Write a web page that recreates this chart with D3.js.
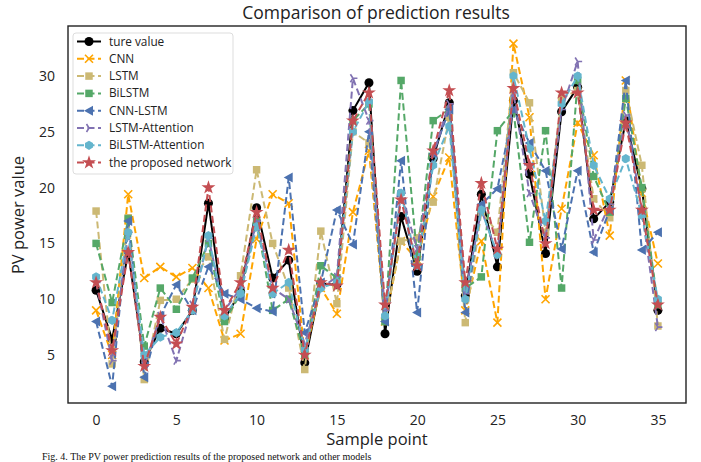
<!DOCTYPE html>
<html lang="en">
<head>
<meta charset="UTF-8">
<title>Comparison of prediction results</title>
<script src="https://cdn.jsdelivr.net/npm/d3@7"></script>
<style>
	body { margin: 0; background: #fff; }
	svg { display: block; font-family: "Open Sans", "Noto Sans", sans-serif; }
</style>
</head>
<body>
<div id="chart"></div>
<script>
// sample index 0..35
let samples = d3.range(36);

let trueValue = [10.8, 6.4, 14.2, 4.4, 7.4, 6.9, 9.0, 18.6, 8.2, 10.7, 18.2, 11.9, 13.5, 4.3, 11.4, 11.3, 26.9, 29.4, 6.9, 17.4, 12.5, 22.6, 27.6, 10.3, 19.4, 12.9, 27.8, 21.2, 14.1, 26.8, 29.0, 17.2, 18.7, 26.0, 19.9, 9.0];
let cnn = [9.0, 5.0, 19.4, 11.9, 12.9, 12.0, 12.8, 11.0, 6.3, 6.9, 15.4, 19.4, 18.6, 5.0, 11.0, 8.7, 17.8, 23.3, 8.0, 15.2, 13.5, 19.2, 22.7, 9.0, 15.2, 7.9, 32.9, 26.3, 10.0, 18.1, 25.8, 22.9, 15.7, 29.6, 19.5, 13.2];
let lstm = [17.9, 4.2, 17.3, 2.8, 9.9, 10.0, 11.8, 13.8, 6.4, 12.1, 21.6, 15.0, 11.0, 3.7, 16.1, 9.6, 25.0, 24.0, 8.0, 15.2, 15.5, 18.7, 26.3, 7.9, 17.8, 16.0, 30.3, 27.6, 16.0, 28.0, 28.7, 19.0, 17.3, 28.7, 22.0, 7.6];
let bilstm = [15.0, 9.7, 17.2, 5.8, 11.0, 9.1, 11.9, 15.0, 8.0, 10.5, 17.0, 9.0, 10.0, 5.0, 13.0, 11.9, 26.0, 27.5, 8.0, 29.6, 13.8, 26.0, 27.0, 11.0, 12.0, 25.1, 26.9, 15.1, 25.1, 11.0, 29.6, 21.0, 17.8, 28.0, 20.0, 9.5];
let cnnLstm = [8.0, 2.2, 17.0, 3.0, 8.5, 11.3, 9.0, 12.9, 10.5, 10.0, 9.2, 8.9, 20.9, 7.0, 11.5, 18.0, 14.9, 25.0, 8.0, 22.4, 8.8, 23.0, 27.0, 8.8, 18.5, 19.9, 27.0, 24.0, 21.5, 14.5, 21.5, 14.2, 18.0, 29.6, 14.4, 16.0];
let lstmAtt = [11.5, 4.5, 16.0, 4.0, 8.5, 4.5, 9.5, 15.5, 9.0, 11.0, 17.0, 11.0, 10.0, 6.0, 11.0, 12.0, 29.8, 26.0, 9.0, 19.5, 14.5, 23.0, 27.5, 10.5, 18.0, 14.0, 28.5, 19.5, 15.5, 27.0, 31.3, 15.3, 18.5, 26.5, 18.0, 7.5];
let bilstmAtt = [12.0, 8.1, 16.0, 5.0, 6.6, 7.0, 9.0, 15.7, 8.5, 10.5, 16.5, 10.5, 11.5, 5.5, 11.0, 11.5, 25.0, 27.7, 8.5, 19.5, 13.0, 22.0, 25.5, 10.0, 18.0, 14.0, 30.0, 23.5, 17.0, 27.5, 30.0, 22.0, 19.0, 22.6, 17.5, 10.0];
let proposed = [11.5, 5.4, 14.2, 4.0, 8.4, 6.0, 9.3, 20.0, 9.0, 11.5, 17.8, 11.0, 14.4, 5.0, 11.5, 11.2, 26.0, 28.5, 9.5, 18.9, 13.0, 23.3, 28.7, 11.5, 20.4, 14.5, 28.9, 22.0, 15.0, 28.5, 28.5, 18.0, 18.0, 25.8, 18.0, 9.5];

let seriesNames = ['ture value', 'CNN', 'LSTM', 'BiLSTM', 'CNN-LSTM', 'LSTM-Attention', 'BiLSTM-Attention', 'the proposed network'];
let seriesValues = [trueValue, cnn, lstm, bilstm, cnnLstm, lstmAtt, bilstmAtt, proposed];
let xTicks = [0, 5, 10, 15, 20, 25, 30, 35];
let yTicks = [5, 10, 15, 20, 25, 30];

let colors = ['#000000', '#ffa500', '#ccb974', '#55a868', '#4c72b0', '#8172b2', '#64b5cd', '#c44e52'];
let markers = ['circle', 'x', 'square', 'square', 'left', 'tri', 'hex', 'star'];

let width = 701,
	height = 462;
let plot = { left: 68, right: 686, top: 26, bottom: 403 };

let svg = d3.select('#chart')
	.append('svg')
	.attr('width', width)
	.attr('height', height);

svg.append('rect').attr('width', width).attr('height', height).attr('fill', '#fff');

let x = d3.scaleLinear().domain([-1.75, 36.75]).range([plot.left, plot.right]);
let y = d3.scaleLinear().domain([0.7, 34.48]).range([plot.bottom, plot.top]);

// marker path around 0,0
function markerPath(type) {
	if (type === 'circle') return d3.symbol(d3.symbolCircle, 64)();
	if (type === 'square') return d3.symbol(d3.symbolSquare, 56)();
	if (type === 'star') return d3.symbol(d3.symbolStar, 60)();
	if (type === 'x') return 'M-4,-4L4,4M-4,4L4,-4';
	if (type === 'left') return 'M-5,0L4,-5L4,5Z';
	if (type === 'tri') return 'M0,0L4.5,0M0,0L-2.5,-4M0,0L-2.5,4';
	if (type === 'hex') {
		let pts = d3.range(6).map(k => {
			let a = Math.PI / 3 * k + Math.PI / 6;
			return [4.6 * Math.cos(a), 4.6 * Math.sin(a)];
		});
		return 'M' + pts.join('L') + 'Z';
	}
}

function drawMarker(g, type, color) {
	let p = g.append('path').attr('d', markerPath(type));
	if (type === 'x' || type === 'tri') {
		p.attr('fill', 'none').attr('stroke', color).attr('stroke-width', 1.6);
	} else {
		p.attr('fill', color);
	}
}

let line = d3.line()
	.x((d, i) => x(samples[i]))
	.y(d => y(d));

let plotG = svg.append('g');

seriesValues.forEach((vals, s) => {
	let g = plotG.append('g');
	g.append('path')
		.datum(vals)
		.attr('d', line)
		.attr('fill', 'none')
		.attr('stroke', colors[s])
		.attr('stroke-width', 2)
		.attr('stroke-dasharray', s === 0 ? null : '7,3.5');
	g.selectAll('g.m')
		.data(vals)
		.enter()
		.append('g')
		.attr('class', 'm')
		.attr('transform', (d, i) => `translate(${x(samples[i])},${y(d)})`)
		.each(function () { drawMarker(d3.select(this), markers[s], colors[s]); });
});

// frame
svg.append('rect')
	.attr('x', plot.left)
	.attr('y', plot.top)
	.attr('width', plot.right - plot.left)
	.attr('height', plot.bottom - plot.top)
	.attr('fill', 'none')
	.attr('stroke', '#222')
	.attr('stroke-width', 1.4);

// axes without tick marks
let xAxis = svg.append('g')
	.attr('transform', `translate(0,${plot.bottom})`)
	.call(d3.axisBottom(x).tickValues(xTicks).tickSize(0).tickPadding(12));
let yAxis = svg.append('g')
	.attr('transform', `translate(${plot.left},0)`)
	.call(d3.axisLeft(y).tickValues(yTicks).tickSize(0).tickPadding(13));
[xAxis, yAxis].forEach(a => {
	a.select('.domain').remove();
	a.selectAll('text')
		.attr('font-family', '"Open Sans", "Noto Sans", sans-serif')
		.attr('font-size', 14)
		.attr('fill', '#222');
});

svg.append('text')
	.attr('x', 376)
	.attr('y', 19)
	.attr('text-anchor', 'middle')
	.attr('font-size', 17.5)
	.attr('fill', '#222')
	.text('Comparison of prediction results');

svg.append('text')
	.attr('x', 377)
	.attr('y', 445)
	.attr('text-anchor', 'middle')
	.attr('font-size', 16.5)
	.attr('fill', '#222')
	.text('Sample point');

svg.append('text')
	.attr('transform', 'translate(24,215) rotate(-90)')
	.attr('text-anchor', 'middle')
	.attr('font-size', 16.5)
	.attr('fill', '#222')
	.text('PV power value');

// legend
let legend = svg.append('g');
legend.append('rect')
	.attr('x', 73)
	.attr('y', 33)
	.attr('width', 160)
	.attr('height', 141)
	.attr('rx', 3)
	.attr('fill', '#fff')
	.attr('fill-opacity', 0.85)
	.attr('stroke', '#ddd');

seriesNames.forEach((name, s) => {
	let ly = 41.5 + s * 17.3;
	let item = legend.append('g');
	item.append('line')
		.attr('x1', 77).attr('x2', 101)
		.attr('y1', ly).attr('y2', ly)
		.attr('stroke', colors[s])
		.attr('stroke-width', 2)
		.attr('stroke-dasharray', s === 0 ? null : '7,3.5');
	let mg = item.append('g').attr('transform', `translate(89,${ly})`);
	drawMarker(mg, markers[s], colors[s]);
	item.append('text')
		.attr('x', 109)
		.attr('y', ly + 4)
		.attr('font-size', 11.8)
		.attr('fill', '#222')
		.text(name);
});

// figure caption under the chart
svg.append('text')
	.attr('x', 42)
	.attr('y', 459.5)
	.attr('font-family', '"Liberation Serif", serif')
	.attr('font-size', 10)
	.attr('fill', '#111')
	.text('Fig. 4. The PV power prediction results of the proposed network and other models');
</script>
</body>
</html>
